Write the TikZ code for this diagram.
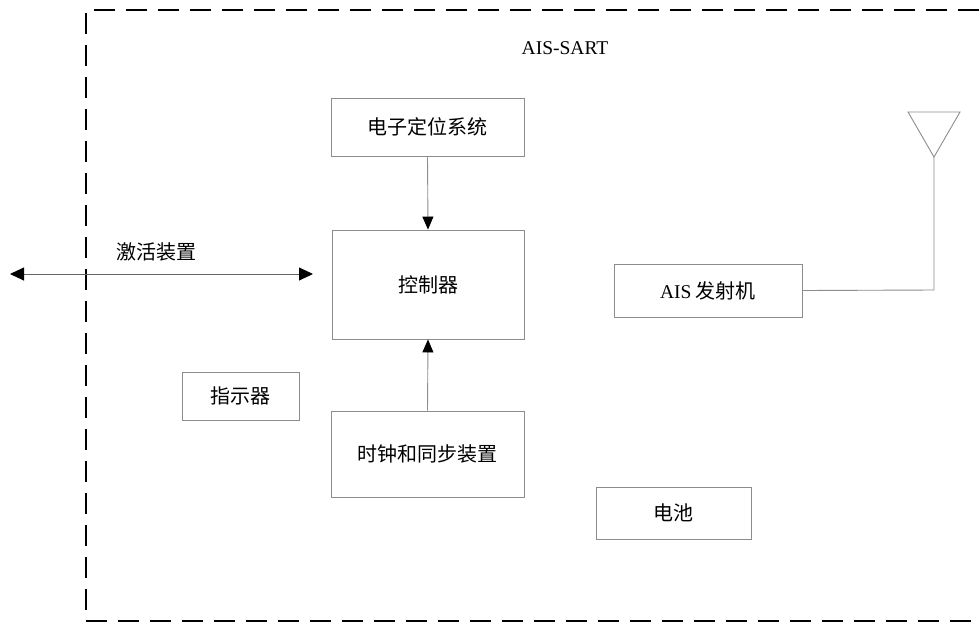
\documentclass[tikz,border=0pt]{standalone}
\usepackage{fontspec}
\setmainfont{Liberation Serif}
\newfontfamily\cjk{Noto Sans CJK SC}[Scale=1.0]
\usetikzlibrary{arrows.meta}
\begin{document}
\begin{tikzpicture}[x=1pt,y=-1pt,
  cjkfont/.style={font=\fontsize{20}{22}\selectfont\cjk},
  blk/.style={draw=black!45,line width=0.9pt,inner sep=0pt,cjkfont},
  conn/.style={draw=black!45,line width=0.9pt},
  tip/.style={-{Triangle[length=13pt,width=11pt,color=black]}}]
\useasboundingbox (0,0) rectangle (979,622);
% dashed boundary
\draw[line width=2.2pt,dash pattern=on 21pt off 11pt] (979,10) -- (86,10) -- (86,621) -- (979,621);
\node[font=\fontsize{19.5}{21}\selectfont] (title) at (565,48) {AIS-SART};
% blocks
\node[blk,minimum width=193pt,minimum height=58pt] (gps) at (427.5,127) {电子定位系统};
\node[blk,minimum width=192pt,minimum height=109pt] (ctl) at (428,284.5) {控制器};
\node[blk,minimum width=193pt,minimum height=86pt] (clk) at (427.5,454) {时钟和同步装置};
\node[blk,minimum width=117pt,minimum height=48pt] (ind) at (240.5,396) {指示器};
\node[blk,minimum width=188pt,minimum height=53pt] (tx) at (708,290.5) {{\fontsize{19.5}{21}\selectfont\rmfamily AIS} 发射机};
\node[blk,minimum width=155pt,minimum height=52pt] (bat) at (673.5,513) {电池};
% connectors
\draw[conn,tip] (gps.south) -- (ctl.north);
\draw[conn,tip] (clk.north) -- (ctl.south);
\coordinate (aL) at (10,274);
\coordinate (aR) at (313,274);
\draw[line width=0.9pt,draw=black!60,{Triangle[length=14pt,width=13pt,color=black]}-{Triangle[length=14pt,width=13pt,color=black]}] (aL) -- (aR);
\node[cjkfont] (act) at (156,252) {激活装置};
% antenna
\coordinate (apex) at (934,157);
\coordinate (corner) at (934,290);
\draw[conn] (908,112) -- (960,112) -- (apex) -- cycle;
\draw[conn] (apex) -- (corner) -- (tx.east);
\end{tikzpicture}
\end{document}
